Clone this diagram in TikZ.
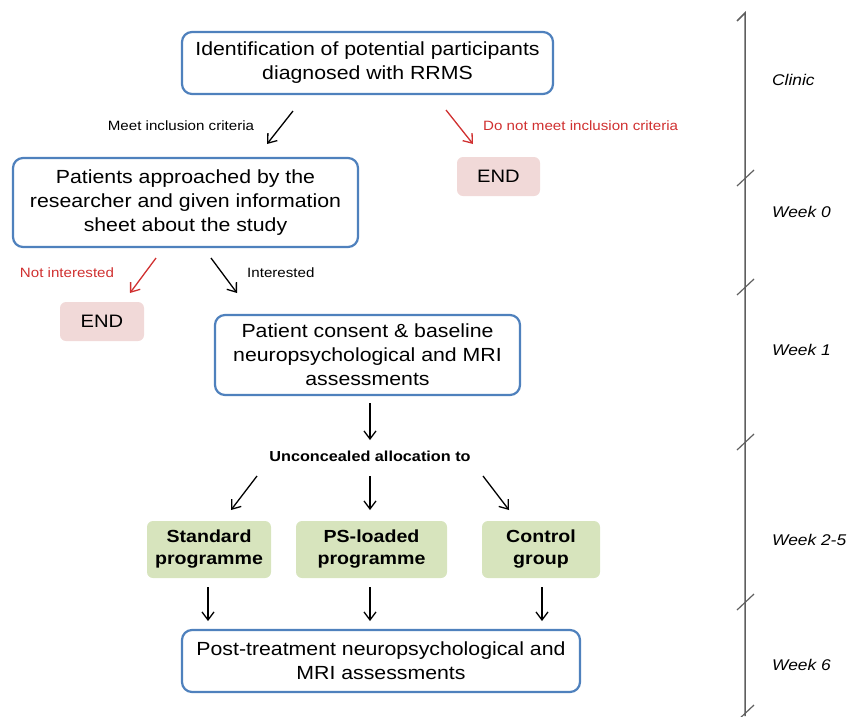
\documentclass[tikz,border=0pt]{standalone}
\usepackage{fontspec}
\setmainfont{Liberation Sans}[FakeStretch=1.12]
\usetikzlibrary{arrows.meta}
\definecolor{boxblue}{RGB}{79,129,189}
\definecolor{endpink}{RGB}{241,217,216}
\definecolor{grn}{RGB}{215,228,189}
\definecolor{myred}{RGB}{208,48,48}
\definecolor{tlgray}{RGB}{95,95,95}
\tikzset{
  bluebox/.style={draw=boxblue, line width=2.2pt, rounded corners=10pt, fill=white, align=center,
    font=\fontsize{19}{24}\selectfont, inner sep=0pt},
  endbox/.style={fill=endpink, rounded corners=6pt, inner sep=0pt, font=\fontsize{18}{22}\selectfont},
  greenbox/.style={fill=grn, rounded corners=6pt, inner sep=0pt, align=center,
    font=\bfseries\fontsize{17.5}{22}\selectfont},
  arr/.style={-{Straight Barb[length=8pt,width=12pt]}, line width=1.3pt},
  redarr/.style={arr, draw=myred},
  lbl/.style={font=\fontsize{13.5}{16}\selectfont, inner sep=0pt},
  redlbl/.style={lbl, text=myred},
  tl/.style={font=\itshape\fontsize{15.5}{18}\selectfont, anchor=west, inner sep=0pt},
  tlline/.style={draw=tlgray, line width=1.5pt},
}
\begin{document}
\begin{tikzpicture}[x=1pt,y=-1pt]
\useasboundingbox (0,0) rectangle (851,716);
% boxes
\node[bluebox, minimum width=371pt, minimum height=62pt] (b1) at (367.5,63)
  {Identification of potential participants\\diagnosed with RRMS};
\node[bluebox, minimum width=345pt, minimum height=89pt] (b2) at (185.5,202.5)
  {Patients approached by the\\researcher and given information\\sheet about the study};
\node[endbox, minimum width=83pt, minimum height=39pt] (e1) at (498.5,176.5) {END};
\node[endbox, minimum width=84pt, minimum height=39pt] (e2) at (102,321.5) {END};
\node[bluebox, minimum width=305pt, minimum height=80pt] (b3) at (367.5,355)
  {Patient consent \& baseline\\neuropsychological and MRI\\assessments};
\node[font=\bfseries\fontsize{14.5}{17}\selectfont, inner sep=0pt] (alloc) at (370,456) {Unconcealed allocation to};
\node[greenbox, minimum width=124pt, minimum height=57pt] (g1) at (209,549.5) {Standard\\programme};
\node[greenbox, minimum width=151pt, minimum height=57pt] (g2) at (371.5,549.5) {PS-loaded\\programme};
\node[greenbox, minimum width=118pt, minimum height=57pt] (g3) at (541,549.5) {Control\\group};
\node[bluebox, minimum width=398pt, minimum height=62pt] (b4) at (381,661)
  {Post-treatment neuropsychological and\\MRI assessments};
% labels
\node[lbl] (l1) at (181,126) {Meet inclusion criteria};
\node[redlbl, anchor=west] (l2) at (483,126) {Do not meet inclusion criteria};
\node[redlbl] (l3) at (67,273) {Not interested};
\node[lbl, anchor=west] (l4) at (247,273) {Interested};
% arrow coordinates
\coordinate (a1s) at (293,111); \coordinate (a1e) at (267,144);
\coordinate (a2s) at (446,110); \coordinate (a2e) at (473,144);
\coordinate (a3s) at (156,258); \coordinate (a3e) at (130,293);
\coordinate (a4s) at (211,258); \coordinate (a4e) at (237,293);
\coordinate (a5s) at (370,403); \coordinate (a5e) at (370,440);
\coordinate (a6s) at (257,476); \coordinate (a6e) at (231,510);
\coordinate (a7s) at (370,476); \coordinate (a7e) at (370,510);
\coordinate (a8s) at (483,476); \coordinate (a8e) at (509,510);
\coordinate (a9s) at (208,587); \coordinate (a9e) at (208,621);
\coordinate (a10s) at (370,587); \coordinate (a10e) at (370,621);
\coordinate (a11s) at (542,587); \coordinate (a11e) at (542,621);
\draw[arr] (a1s) -- (a1e);
\draw[redarr] (a2s) -- (a2e);
\draw[redarr] (a3s) -- (a3e);
\draw[arr] (a4s) -- (a4e);
\draw[arr] (a5s) -- (a5e);
\draw[arr] (a6s) -- (a6e);
\draw[arr] (a7s) -- (a7e);
\draw[arr] (a8s) -- (a8e);
\draw[arr] (a9s) -- (a9e);
\draw[arr] (a10s) -- (a10e);
\draw[arr] (a11s) -- (a11e);
% timeline
\draw[tlline] (737,21) -- (745,13) -- (745,716);
\foreach \yy in {178,287,442,602,713}{
  \draw[tlline, line width=1.2pt] (737,\yy+8) -- (754,\yy-8);
}
\node[tl] (t1) at (772,80) {Clinic};
\node[tl] (t2) at (772,212) {Week 0};
\node[tl] (t3) at (772,350) {Week 1};
\node[tl] (t4) at (772,540) {Week 2-5};
\node[tl] (t5) at (772,665) {Week 6};
\end{tikzpicture}
\end{document}
